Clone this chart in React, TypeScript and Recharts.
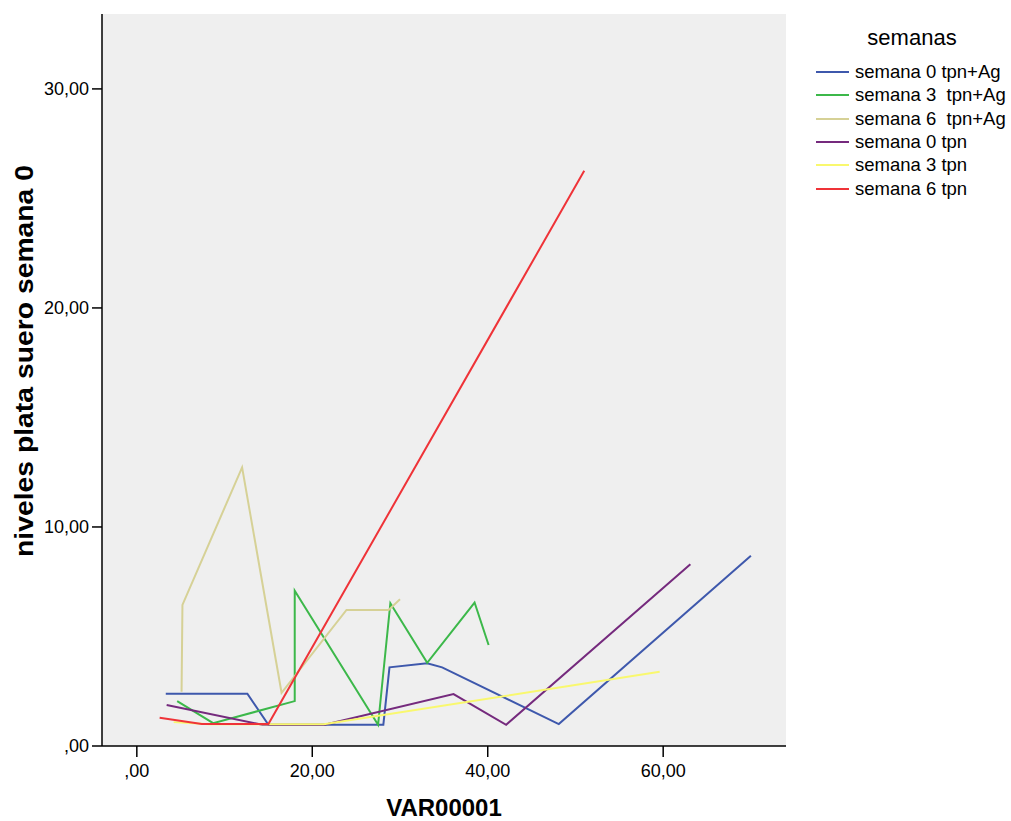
import { LineChart, Line, XAxis, YAxis, CartesianGrid, Label } from 'recharts';

// valores (x = VAR00001, y = niveles plata)
const s0AgX = [3.3, 12.6, 15.0, 28.1, 28.8, 33.1, 34.8, 48.1, 70.0];
const s0AgY = [2.39, 2.39, 0.97, 0.97, 3.59, 3.78, 3.59, 1.0, 8.69];

const s3AgX = [4.6, 8.7, 18.0, 18.0, 27.5, 28.9, 33.1, 38.5, 40.1];
const s3AgY = [2.05, 1.04, 2.05, 7.09, 0.97, 6.52, 3.8, 6.55, 4.61];

const s6AgX = [5.1, 5.2, 12.0, 16.5, 23.9, 28.7, 30.0];
const s6AgY = [2.48, 6.44, 12.72, 2.43, 6.21, 6.21, 6.7];

const s0X = [3.4, 14.3, 21.4, 36.1, 42.1, 63.1];
const s0Y = [1.87, 0.97, 0.97, 2.37, 0.97, 8.3];

const s3X = [4.2, 8.3, 21.3, 59.6];
const s3Y = [1.09, 0.99, 0.99, 3.39];

const s6X = [2.6, 7.4, 15.0, 51.0];
const s6Y = [1.29, 1.0, 1.0, 26.26];

const seriesNames = [
  'semana 0 tpn+Ag',
  'semana 3  tpn+Ag',
  'semana 6  tpn+Ag',
  'semana 0 tpn',
  'semana 3 tpn',
  'semana 6 tpn',
];
const seriesColors = ['#3e58ac', '#3cb84a', '#d6d196', '#752a7d', '#f9f86e', '#ef3338'];

const xTicks = [0, 20, 40, 60];
const yTicks = [0, 10, 20, 30];
const xDomain = [-3.97, 74.0];
const yDomain = [0, 33.42];

const toPoints = (xs: number[], ys: number[]) => xs.map((x, i) => ({ x, y: ys[i] }));

const allSeries = [
  toPoints(s0AgX, s0AgY),
  toPoints(s3AgX, s3AgY),
  toPoints(s6AgX, s6AgY),
  toPoints(s0X, s0Y),
  toPoints(s3X, s3Y),
  toPoints(s6X, s6Y),
];

const font = '"Liberation Sans", Arial, sans-serif';

const fmt = (v: number) => (v === 0 ? ',00' : v.toFixed(2).replace('.', ','));

function YLabel() {
  const cx = 24;
  const cy = 361;
  return (
    <text
      x={cx}
      y={cy}
      transform={`rotate(-90 ${cx} ${cy})`}
      textAnchor="middle"
      dominantBaseline="central"
      fontFamily={font}
      fontWeight="bold"
      fontSize={25}
      textLength={392}
      lengthAdjust="spacingAndGlyphs"
      fill="#000"
    >
      niveles plata suero semana 0
    </text>
  );
}

export default function App() {
  return (
    <div style={{ position: 'absolute', left: 0, top: 0, width: 1011, height: 821, background: '#fff', overflow: 'hidden' }}>
      <LineChart width={1011} height={821} margin={{ top: 14, right: 225, bottom: 0, left: 0 }}>
        <CartesianGrid horizontal={false} vertical={false} fill="#efefef" />
        <XAxis
          dataKey="x"
          type="number"
          domain={xDomain}
          ticks={xTicks}
          allowDataOverflow
          tickFormatter={fmt}
          height={75}
          stroke="#000"
          strokeWidth={1.5}
          tickSize={11}
          tickMargin={7}
          tick={{ fontSize: 18, fill: '#000', fontFamily: font }}
        >
          <Label
            value="VAR00001"
            position="insideBottom"
            offset={5}
            style={{ fontSize: 24, fontWeight: 'bold', fontFamily: font, fill: '#000' }}
          />
        </XAxis>
        <XAxis xAxisId="top" orientation="top" type="number" domain={xDomain} height={0} tick={false} tickLine={false} stroke="#000" strokeWidth={1.5} />
        <YAxis
          dataKey="y"
          type="number"
          domain={yDomain}
          ticks={yTicks}
          allowDataOverflow
          tickFormatter={fmt}
          width={102}
          stroke="#000"
          strokeWidth={1.5}
          tickSize={10}
          tickMargin={3}
          tick={{ fontSize: 18, fill: '#000', fontFamily: font }}
        >
          <Label content={<YLabel />} />
        </YAxis>
        <YAxis yAxisId="right" orientation="right" type="number" domain={yDomain} width={0} tick={false} tickLine={false} stroke="#000" strokeWidth={1.5} />
        {allSeries.map((d, i) => (
          <Line
            key={seriesNames[i]}
            data={d}
            dataKey="y"
            name={seriesNames[i]}
            type="linear"
            stroke={seriesColors[i]}
            strokeWidth={2}
            dot={false}
            activeDot={false}
            isAnimationActive={false}
          />
        ))}
      </LineChart>
      <div style={{ position: 'absolute', left: 816, top: 0, width: 195, height: 220, fontFamily: font, color: '#000' }}>
        <div style={{ position: 'absolute', left: 0, top: 25, width: 192, textAlign: 'center', fontSize: 22, lineHeight: '26px' }}>
          semanas
        </div>
        {seriesNames.map((n, i) => (
          <div
            key={n}
            style={{ position: 'absolute', left: 0, top: 60 + i * 23.3, width: 195, height: 24, display: 'flex', alignItems: 'center', whiteSpace: 'pre' }}
          >
            <span style={{ flexShrink: 0, display: 'inline-block', width: 33, height: 2, background: seriesColors[i], marginRight: 6 }} />
            <span style={{ flexShrink: 0, fontSize: 18.5, lineHeight: '24px' }}>{n}</span>
          </div>
        ))}
      </div>
    </div>
  );
}
